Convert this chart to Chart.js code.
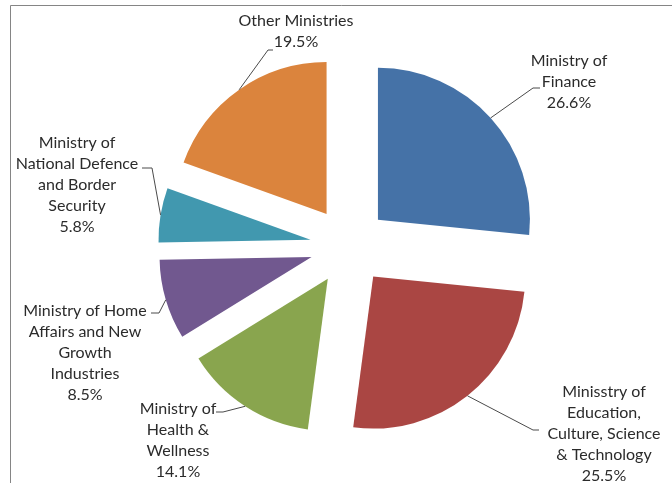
<!DOCTYPE html>
<html>
<head>
<meta charset="utf-8">
<script src="https://cdn.jsdelivr.net/npm/chart.js@4.4.1/dist/chart.umd.min.js"></script>
<style>
  html, body { margin: 0; padding: 0; background: #fff; }
</style>
</head>
<body>
<canvas id="budgetChart" width="672" height="483"></canvas>
<script>
// budget shares, clockwise from 12 o'clock
const categories = [
  'Ministry of\nFinance',
  'Minisstry of\nEducation,\nCulture, Science\n& Technology',
  'Ministry of\nHealth &\nWellness',
  'Ministry of Home\nAffairs and New\nGrowth\nIndustries',
  'Ministry of\nNational Defence\nand Border\nSecurity',
  'Other Ministries'
];
const shares = [26.6, 25.5, 14.1, 8.5, 5.8, 19.5];
const colors = ['#4572A7', '#AA4643', '#89A54E', '#71588F', '#4198AF', '#DB843D'];

// label block: centre x, first line y; leader elbow and end point
const labelPos = [
  { x: 569, y: 61,  elbow: [533, 88],  end: [540, 88] },
  { x: 604, y: 392, elbow: [533, 430], end: [539, 430] },
  { x: 178, y: 409, elbow: [223, 412], end: [216, 412] },
  { x: 85,  y: 311, elbow: [159, 313], end: [151, 313] },
  { x: 77,  y: 143, elbow: [152, 168], end: [142, 168] },
  { x: 296, y: 21,  elbow: [268, 50],  end: [273, 50] }
];

const EXPLODE = 39;
const LINE_H = 21;

// pull every slice out from the centre along its mid angle
const explodePie = {
  id: 'explodePie',
  beforeDatasetDraw(chart, args) {
    const ctx = chart.ctx;
    args.meta.data.forEach(arc => {
      const mid = (arc.startAngle + arc.endAngle) / 2;
      ctx.save();
      ctx.translate(Math.cos(mid) * EXPLODE, Math.sin(mid) * EXPLODE);
      arc.draw(ctx);
      ctx.restore();
    });
    return false;
  }
};

// thin grey frame along the top and left
const frame = {
  id: 'frame',
  beforeDraw(chart) {
    const ctx = chart.ctx;
    ctx.save();
    ctx.strokeStyle = '#858585';
    ctx.lineWidth = 1;
    ctx.beginPath();
    ctx.moveTo(10.5, 483);
    ctx.lineTo(10.5, 5.5);
    ctx.lineTo(672, 5.5);
    ctx.stroke();
    ctx.restore();
  }
};

// category + percentage labels with leader lines
const sliceLabels = {
  id: 'sliceLabels',
  afterDraw(chart) {
    const ctx = chart.ctx;
    const arcs = chart.getDatasetMeta(0).data;
    ctx.save();
    ctx.font = '16px Lato';
    ctx.fillStyle = '#2b2b2b';
    ctx.textAlign = 'center';
    ctx.textBaseline = 'middle';
    arcs.forEach((arc, i) => {
      const pos = labelPos[i];
      const lines = categories[i].split('\n').concat(shares[i].toFixed(1) + '%');
      lines.forEach((t, k) => ctx.fillText(t, pos.x, pos.y + k * LINE_H));

      const mid = (arc.startAngle + arc.endAngle) / 2;
      const r = arc.outerRadius + EXPLODE;
      ctx.strokeStyle = '#4a4a4a';
      ctx.lineWidth = 1;
      ctx.beginPath();
      ctx.moveTo(arc.x + Math.cos(mid) * r, arc.y + Math.sin(mid) * r);
      ctx.lineTo(pos.elbow[0], pos.elbow[1]);
      ctx.lineTo(pos.end[0], pos.end[1]);
      ctx.stroke();
    });
    ctx.restore();
  }
};

new Chart(document.getElementById('budgetChart'), {
  type: 'pie',
  data: {
    labels: categories,
    datasets: [{
      data: shares,
      backgroundColor: colors,
      borderWidth: 0
    }]
  },
  options: {
    responsive: false,
    animation: false,
    radius: 152,
    layout: { padding: { left: 26, right: 0, top: 9, bottom: 0 } },
    plugins: {
      legend: { display: false },
      tooltip: { enabled: false }
    },
    events: []
  },
  plugins: [frame, explodePie, sliceLabels]
});
</script>
</body>
</html>
